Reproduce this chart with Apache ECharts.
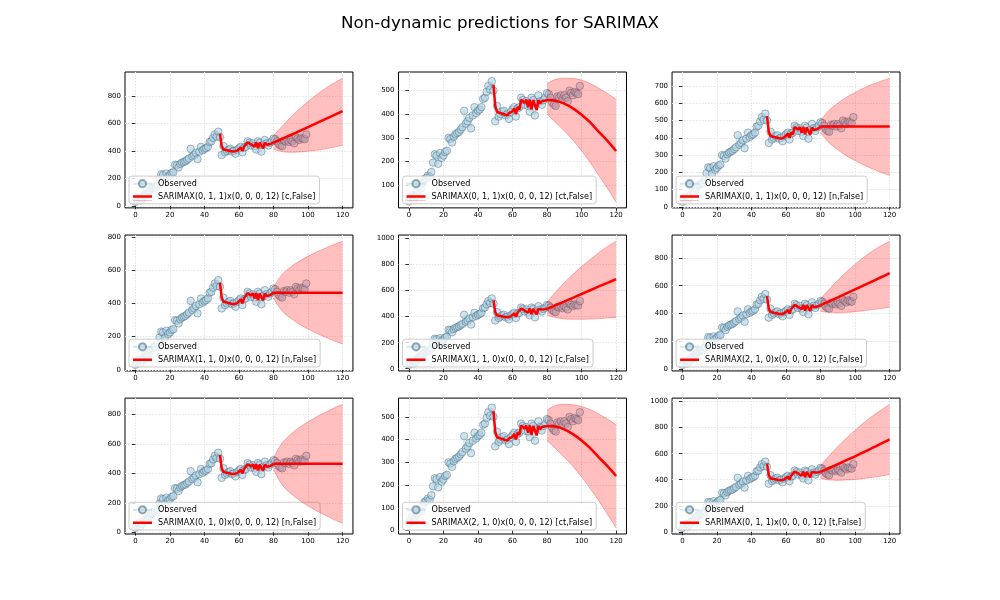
<!DOCTYPE html>
<html><head><meta charset="utf-8">
<script src="https://cdn.jsdelivr.net/npm/echarts@6/dist/echarts.min.js"></script>
<style>html,body{margin:0;padding:0;background:#fff}#c{width:1000px;height:600px}</style>
</head><body><div id="c"></div>
<script>
// ---------- data ----------
const titleText = 'Non-dynamic predictions for SARIMAX';
const xTicks = [0, 20, 40, 60, 80, 100, 120];
const xLimits = [-6, 126];
const observed = [30,45,60,40,55,75,90,85,110,125,
  130,140,135,155,195,230,225,190,235,215,
  225,240,245,300,295,280,305,315,320,325,
  335,345,415,360,370,385,340,395,430,405,
  415,420,430,465,470,495,520,505,540,500,
  370,435,390,400,410,415,395,400,380,410,
  420,430,390,425,430,470,460,440,455,435,
  410,470,460,395,445,480,455,440,460,470,
  490,485,470,450,440,435,475,470,480,465,
  480,470,455,500,490,480,495,490,485,520];
const inSampleStart = 49;
const inSample = [525,435,410,408,405,410,400,398,395,405,402,412,425,400,432,420,462,455,448,462,430,462,420,460,455,418,460,445,455,450,458];
const forecastX = [80,85,90,95,100,105,110,115,120];
const modelLabels = [
  'SARIMAX(0, 1, 1)x(0, 0, 0, 12) [c,False]',
  'SARIMAX(0, 1, 1)x(0, 0, 0, 12) [ct,False]',
  'SARIMAX(0, 1, 1)x(0, 0, 0, 12) [n,False]',
  'SARIMAX(1, 1, 0)x(0, 0, 0, 12) [n,False]',
  'SARIMAX(1, 1, 0)x(0, 0, 0, 12) [c,False]',
  'SARIMAX(2, 1, 0)x(0, 0, 0, 12) [c,False]',
  'SARIMAX(0, 1, 0)x(0, 0, 0, 12) [n,False]',
  'SARIMAX(2, 1, 0)x(0, 0, 0, 12) [ct,False]',
  'SARIMAX(0, 1, 1)x(0, 0, 0, 12) [t,False]'
];
const forecastMean = [
  [460,488,516,545,574,603,632,661,690],
  [460,457,445,425,398,365,325,287,244],
  [465,465,465,465,465,465,465,465,465],
  [465,465,465,465,465,465,465,465,465],
  [460,488,516,545,574,603,632,660,688],
  [460,488,516,545,574,603,632,661,690],
  [465,465,465,465,465,465,465,465,465],
  [460,457,445,424,396,362,322,283,240],
  [460,490,520,550,580,612,644,677,710]
];
const forecastLower = [
  [412,395,390,392,398,405,415,428,441],
  [400,365,330,290,245,195,140,85,27],
  [430,370,330,295,268,242,220,200,182],
  [430,355,310,275,246,220,197,175,155],
  [410,392,383,380,380,382,385,389,392],
  [415,408,405,408,413,420,428,436,445],
  [425,322,263,217,179,145,115,86,60],
  [395,360,322,282,236,185,130,72,12],
  [410,398,395,398,402,410,418,428,440]
];
const forecastUpper = [
  [510,580,645,705,760,810,855,895,930],
  [530,548,553,552,545,530,510,488,463],
  [500,560,600,635,662,688,710,728,745],
  [500,575,620,655,684,710,733,755,775],
  [510,590,660,725,785,840,892,940,980],
  [505,575,640,700,755,805,850,888,920],
  [505,608,667,713,751,785,815,844,870],
  [530,550,555,553,545,532,512,490,465],
  [510,585,655,720,780,838,888,935,980]
];
const yMin = [-15, 3, -6, -7, -17, -14, -12, -15, -17];
const yMax = [975, 579, 781, 812, 1027, 965, 912, 582, 1027];
const yTicks = [
  [0,200,400,600,800],
  [100,200,300,400,500],
  [0,100,200,300,400,500,600,700],
  [0,200,400,600,800],
  [0,200,400,600,800,1000],
  [0,200,400,600,800],
  [0,200,400,600,800],
  [0,100,200,300,400,500],
  [0,200,400,600,800,1000]
];

// ---------- layout ----------
const W = 1000, H = 600;
const FONT = 'DejaVu Sans';
const axW = 775 / 3.4, axH = 462 / 3.4;
const grids = [], xAxes = [], yAxes = [], series = [], legends = [];
const gridLine = {show: true, lineStyle: {color: '#e4e4e4', width: 1, type: [1.5, 1.5]}};
const redBarIcon = 'path://M0,0 L20,0 L20,0.01 L0,0.01 Z M0,3.2 L20,3.2 L20,5.8 L0,5.8 Z M0,9 L20,9 L20,9.01 L0,9.01 Z';

for (let i = 0; i < 9; i++) {
  const r = Math.floor(i / 3), c = i % 3;
  const left = 125 + c * 1.2 * axW;
  const top = 72 + r * 1.2 * axH;
  grids.push({left: left, top: top, width: axW, height: axH, show: true,
    borderColor: '#000', borderWidth: 1, backgroundColor: 'transparent'});
  xAxes.push({type: 'value', gridIndex: i, min: xLimits[0], max: xLimits[1],
    axisLine: {show: false},
    axisTick: {show: true, length: 3.5, lineStyle: {color: '#000', width: 0.8}, customValues: xTicks},
    axisLabel: {customValues: xTicks, fontSize: 7, color: '#000', margin: 4, fontFamily: FONT,
      formatter: v => String(v)},
    splitLine: gridLine});
  yAxes.push({type: 'value', gridIndex: i, min: yMin[i], max: yMax[i],
    axisLine: {show: false},
    axisTick: {show: true, length: 3.5, lineStyle: {color: '#000', width: 0.8}, customValues: yTicks[i]},
    axisLabel: {customValues: yTicks[i], fontSize: 7, color: '#000', margin: 4, fontFamily: FONT,
      formatter: v => String(v)},
    splitLine: gridLine});

  // observed
  series.push({name: 'Observed', type: 'line', xAxisIndex: i, yAxisIndex: i,
    data: observed.map((v, k) => [k, v]),
    symbol: 'circle', symbolSize: 7.5, showSymbol: true,
    lineStyle: {color: 'rgba(173,216,230,0.55)', width: 1},
    itemStyle: {color: 'rgba(173,210,228,0.6)', borderColor: 'rgba(55,85,105,0.5)', borderWidth: 0.8},
    emphasis: {disabled: true}, animation: false, z: 2});
  // in-sample prediction (joined to first forecast point)
  const ins = inSample.map((v, k) => [inSampleStart + k, v]);
  ins.push([forecastX[0], forecastMean[i][0]]);
  series.push({name: modelLabels[i], type: 'line', xAxisIndex: i, yAxisIndex: i,
    data: ins, symbol: 'none', lineStyle: {color: '#ff0000', width: 2.5}, itemStyle: {color: '#ff0000'},
    emphasis: {disabled: true}, animation: false, z: 3});
  // forecast
  series.push({name: 'fc' + i, type: 'line', xAxisIndex: i, yAxisIndex: i,
    data: forecastX.map((x, k) => [x, forecastMean[i][k]]), smooth: 0.3,
    symbol: 'none', lineStyle: {color: '#ff0000', width: 2.5},
    emphasis: {disabled: true}, animation: false, z: 3});
  // confidence band (stacked on the y value: dimension 0 = y, dimension 1 = x)
  series.push({name: 'lo' + i, type: 'line', xAxisIndex: i, yAxisIndex: i, stack: 'band' + i,
    encode: {x: 1, y: 0},
    data: forecastX.map((x, k) => [forecastLower[i][k], x]), smooth: 0.3,
    symbol: 'none', lineStyle: {color: 'rgba(255,0,0,0.28)', width: 1},
    emphasis: {disabled: true}, animation: false, z: 4});
  series.push({name: 'up' + i, type: 'line', xAxisIndex: i, yAxisIndex: i, stack: 'band' + i,
    encode: {x: 1, y: 0},
    data: forecastX.map((x, k) => [forecastUpper[i][k] - forecastLower[i][k], x]), smooth: 0.3,
    symbol: 'none', lineStyle: {color: 'rgba(255,0,0,0.28)', width: 1},
    areaStyle: {color: 'rgba(255,0,0,0.25)', opacity: 1},
    emphasis: {disabled: true}, animation: false, z: 4});

  legends.push({left: left + 4, bottom: H - (top + axH) + 4, orient: 'vertical',
    data: ['Observed', {name: modelLabels[i], icon: redBarIcon}],
    itemWidth: 19, itemHeight: 9, itemGap: 4,
    padding: [3, 4, 3, 3], backgroundColor: 'rgba(255,255,255,0.8)',
    borderColor: '#cccccc', borderWidth: 1, borderRadius: 3, selectedMode: false,
    textStyle: {fontSize: 8.1, color: '#000', fontFamily: FONT, padding: [0, 0, 0, 1]}});
}

const chart = echarts.init(document.getElementById('c'));
chart.setOption({
  animation: false,
  backgroundColor: '#fff',
  title: {text: titleText, left: 'center', top: 10,
    textStyle: {fontSize: 16.7, fontWeight: 'normal', color: '#000', fontFamily: FONT}},
  grid: grids, xAxis: xAxes, yAxis: yAxes, legend: legends, series: series
});
</script></body></html>
